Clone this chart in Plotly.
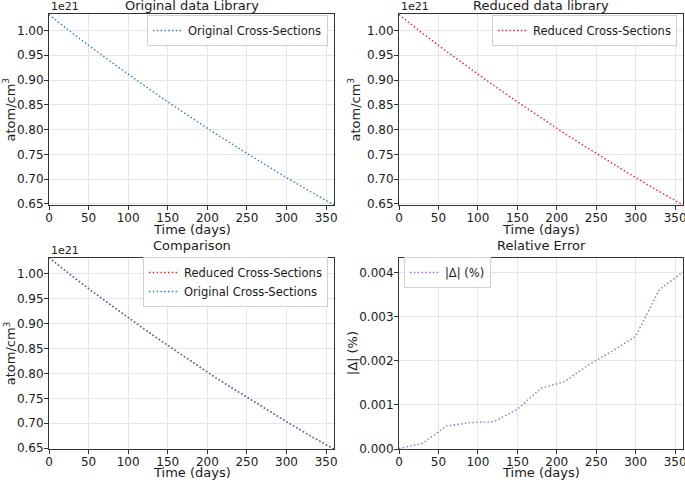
import plotly.graph_objects as go

# ---- data ----
time_days = [0, 30, 60, 90, 120, 150, 180, 210, 240, 270, 300, 330, 360]
original_1e21 = [1.032, 0.994, 0.958, 0.923, 0.889, 0.856, 0.824, 0.792,
                 0.762, 0.732, 0.703, 0.675, 0.648]
reduced_1e21 = [1.032000, 0.9939987, 0.9579950, 0.9229945, 0.8889945, 0.8559923,
                0.8239886, 0.7919879, 0.7619854, 0.7319837, 0.7029820, 0.6749756,
                0.6479740]
rel_err_pct = [0.00001, 0.00013, 0.00052, 0.00060, 0.00062, 0.00090, 0.00138,
               0.00153, 0.00191, 0.00222, 0.00256, 0.00362, 0.00402]

x_ticks = [0, 50, 100, 150, 200, 250, 300, 350]
y_ticks_density = [0.65, 0.70, 0.75, 0.80, 0.85, 0.90, 0.95, 1.00]
y_ticks_err = [0.000, 0.001, 0.002, 0.003, 0.004]

BLUE = "#2f7fd0"
RED = "#e8282b"
PURPLE = "#9370db"
FONT = "DejaVu Sans"
TXT = "#1a1a1a"
DOT = "1.5px,2.3px"

W, H = 685, 482

def px(x):
    return x / W

def py(y):
    return 1 - y / H

xdom_l = [px(49), px(334)]
xdom_r = [px(399), px(683)]
ydom_t = [py(205), py(14)]
ydom_b = [py(449), py(257.5)]

fig = go.Figure()

LW = 1.4
fig.add_trace(go.Scatter(x=time_days, y=original_1e21, mode="lines",
                         line=dict(color=BLUE, dash=DOT, width=LW),
                         name="Original Cross-Sections", xaxis="x", yaxis="y",
                         legend="legend", showlegend=True))
fig.add_trace(go.Scatter(x=time_days, y=reduced_1e21, mode="lines",
                         line=dict(color=RED, dash=DOT, width=LW),
                         name="Reduced Cross-Sections", xaxis="x2", yaxis="y2",
                         legend="legend2", showlegend=True))
fig.add_trace(go.Scatter(x=time_days, y=reduced_1e21, mode="lines",
                         line=dict(color=RED, dash=DOT, width=LW),
                         name="Reduced Cross-Sections", xaxis="x3", yaxis="y3",
                         legend="legend3", showlegend=True))
fig.add_trace(go.Scatter(x=time_days, y=original_1e21, mode="lines",
                         line=dict(color=BLUE, dash=DOT, width=LW),
                         name="Original Cross-Sections", xaxis="x3", yaxis="y3",
                         legend="legend3", showlegend=True))
fig.add_trace(go.Scatter(x=time_days, y=rel_err_pct, mode="lines",
                         line=dict(color=PURPLE, dash=DOT, width=LW),
                         name="|Δ| (%)", xaxis="x4", yaxis="y4",
                         legend="legend4", showlegend=True))

common = dict(showline=True, linecolor="#333333", linewidth=1, mirror=True,
              ticks="outside", ticklen=4, tickcolor="#333333", automargin=False,
              showgrid=True, gridcolor="#e6e6e6", gridwidth=1, zeroline=False,
              ticklabelstandoff=-2, ticklabeloverflow="allow",
              tickfont=dict(family=FONT, size=12, color=TXT))

def xax(dom, anchor):
    return dict(common, domain=dom, anchor=anchor, range=[0, 360],
                tickvals=x_ticks)

def yax(dom, anchor, rng, tv, fmt):
    return dict(common, domain=dom, anchor=anchor, range=rng, tickvals=tv,
                tickformat=fmt)

fig.update_layout(
    xaxis=xax(xdom_l, "y"),
    yaxis=yax(ydom_t, "x", [0.6478, 1.0332], y_ticks_density, ".2f"),
    xaxis2=xax(xdom_r, "y2"),
    yaxis2=yax(ydom_t, "x2", [0.6478, 1.0332], y_ticks_density, ".2f"),
    xaxis3=xax(xdom_l, "y3"),
    yaxis3=yax(ydom_b, "x3", [0.6484, 1.0322], y_ticks_density, ".2f"),
    xaxis4=xax(xdom_r, "y4"),
    yaxis4=yax(ydom_b, "x4", [0, 0.00435], y_ticks_err, ".3f"),
)

leg_common = dict(bgcolor="rgba(255,255,255,0.8)", bordercolor="#d0d0d0",
                  borderwidth=1, font=dict(family=FONT, size=11.5, color=TXT),
                  itemwidth=30, tracegroupgap=0, yanchor="top", visible=True)
fig.update_layout(
    legend=dict(leg_common, x=px(328), y=py(15), xanchor="right"),
    legend2=dict(leg_common, x=px(677), y=py(15), xanchor="right"),
    legend3=dict(leg_common, x=px(328), y=py(257), xanchor="right"),
    legend4=dict(leg_common, x=px(404), y=py(257), xanchor="left"),
)

annotations = []
titles = [("Original data Library", (49 + 334) / 2, 6),
          ("Reduced data library", (399 + 683) / 2, 6),
          ("Comparison", (49 + 334) / 2, 246),
          ("Relative Error", (399 + 683) / 2, 246)]
for text, cx, cy in titles:
    annotations.append(dict(text=text, x=px(cx), y=py(cy), xref="paper",
                            yref="paper", xanchor="center", yanchor="middle",
                            showarrow=False,
                            font=dict(family=FONT, size=13, color=TXT)))
for lx, cy in [(49, 7), (399, 7), (49, 250)]:
    annotations.append(dict(text="1e21", x=px(lx), y=py(cy), xref="paper",
                            yref="paper", xanchor="left", yanchor="middle",
                            showarrow=False,
                            font=dict(family=FONT, size=11, color=TXT)))
# axis titles
for cx, cy in [((49 + 334) / 2, 229), ((399 + 683) / 2, 229),
               ((49 + 334) / 2, 472), ((399 + 683) / 2, 472)]:
    annotations.append(dict(text="Time (days)", x=px(cx), y=py(cy), xref="paper",
                            yref="paper", xanchor="center", yanchor="middle",
                            showarrow=False,
                            font=dict(family=FONT, size=13, color=TXT)))
for text, cx, cy in [("atom/cm<sup>3</sup>", 10, (14 + 205) / 2),
                     ("atom/cm<sup>3</sup>", 355, (14 + 205) / 2),
                     ("atom/cm<sup>3</sup>", 10, (257.5 + 449) / 2),
                     ("|Δ| (%)", 352, (257.5 + 449) / 2)]:
    annotations.append(dict(text=text, x=px(cx), y=py(cy), xref="paper",
                            yref="paper", xanchor="center", yanchor="middle",
                            textangle=-90, showarrow=False,
                            font=dict(family=FONT, size=13, color=TXT)))

fig.update_layout(
    width=W, height=H,
    margin=dict(l=0, r=0, t=0, b=0, autoexpand=False),
    paper_bgcolor="white", plot_bgcolor="white",
    font=dict(family=FONT, size=11, color=TXT),
    annotations=annotations,
    showlegend=True,
)

fig.write_html("out.html",
               config={"displayModeBar": False},
               post_script="document.body.style.margin='0px';"
                           "document.body.style.padding='0px';")
